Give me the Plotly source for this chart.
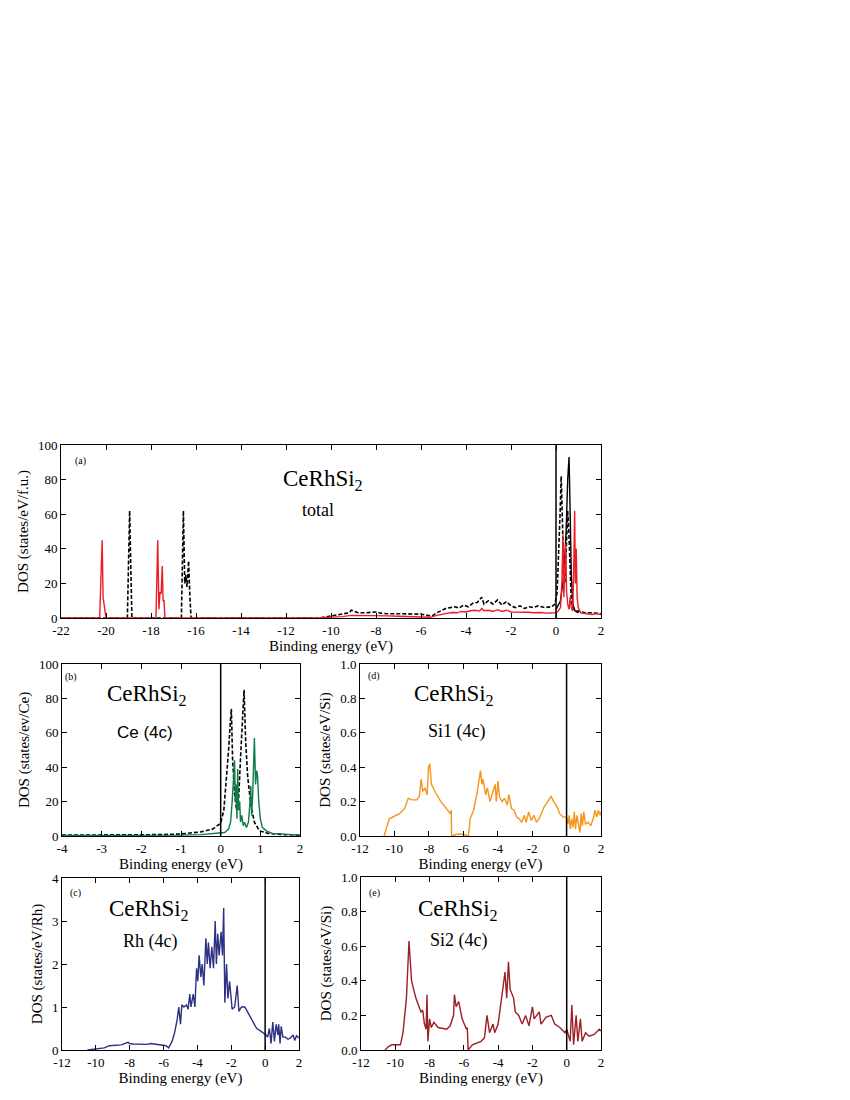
import plotly.graph_objects as go

# ---------------- data (energy in eV, DOS) ----------------
a_red = [(-22, 0), (-20.28, 0), (-20.22, 25), (-20.17, 45), (-20.13, 12), (-20.09, 8), (-20.05, 3), (-20.0, 0),
         (-17.78, 0), (-17.7, 45), (-17.65, 5), (-17.6, 15), (-17.55, 14), (-17.5, 30), (-17.46, 10), (-17.42, 10), (-17.38, 0),
         (-10.5, 0), (-10.0, 0.5), (-9.5, 0.8), (-9.1, 1.5), (-8.5, 1.5), (-8.0, 1.5), (-7.5, 1.2), (-7.0, 1.0), (-6.5, 0.8),
         (-6.0, 0.6), (-5.6, 0.4), (-5.3, 1.5), (-5.0, 2.5), (-4.8, 2.8), (-4.6, 3.2), (-4.4, 3), (-4.2, 3.8), (-4.0, 3.5),
         (-3.8, 4.2), (-3.6, 4.5), (-3.4, 4), (-3.3, 5.5), (-3.2, 4.2), (-3.0, 4.5), (-2.8, 3.8), (-2.6, 4.8), (-2.4, 3.8),
         (-2.2, 4.5), (-2.0, 3.5), (-1.8, 3.5), (-1.5, 3.2), (-1.2, 3.3), (-1.0, 3), (-0.7, 3.2), (-0.4, 2.8), (-0.2, 3),
         (0.0, 3), (0.1, 4), (0.2, 6), (0.26, 20), (0.31, 48), (0.35, 12), (0.39, 25), (0.43, 43), (0.47, 15), (0.52, 8),
         (0.58, 5), (0.63, 12), (0.68, 6), (0.74, 4), (0.79, 30), (0.83, 62), (0.86, 20), (0.9, 40), (0.94, 12), (0.99, 6),
         (1.1, 3), (1.3, 2.5), (1.6, 2), (1.8, 2.5), (2.0, 2)]

a_black_dash = [(-22, 0), (-19.05, 0), (-18.95, 62), (-18.88, 20), (-18.85, 0),
                (-16.65, 0), (-16.56, 62), (-16.5, 20), (-16.45, 25), (-16.4, 18), (-16.33, 33), (-16.27, 12), (-16.22, 0),
                (-10.5, 0), (-10.0, 1), (-9.5, 2), (-9.2, 3), (-9.1, 4.5), (-8.8, 3), (-8.5, 3), (-8.0, 3.5), (-7.8, 2.8),
                (-7.5, 2.5), (-7.0, 2.5), (-6.5, 2.2), (-6.0, 2.2), (-5.7, 1.5), (-5.5, 1.2), (-5.3, 3), (-5.1, 4.5),
                (-4.9, 5.5), (-4.7, 6), (-4.5, 6.5), (-4.3, 5.8), (-4.1, 7.5), (-3.9, 6.5), (-3.7, 8.5), (-3.5, 9),
                (-3.3, 12), (-3.2, 8), (-3.0, 10), (-2.8, 8), (-2.6, 10.5), (-2.4, 7.5), (-2.2, 9.5), (-2.0, 7),
                (-1.8, 6), (-1.6, 7), (-1.4, 5.5), (-1.2, 6.5), (-1.0, 6), (-0.8, 7), (-0.5, 6), (-0.2, 6.5), (-0.05, 8),
                (0.05, 15), (0.12, 35), (0.18, 60), (0.23, 82), (0.28, 55), (0.34, 30), (0.4, 20), (0.45, 35), (0.52, 62),
                (0.57, 50), (0.62, 25), (0.68, 10), (0.75, 6), (0.85, 4), (1.0, 4), (1.3, 3), (1.6, 3), (2.0, 2.5)]

a_black_solid = [(0.0, 5), (0.2, 10), (0.35, 25), (0.45, 50), (0.52, 80), (0.58, 93), (0.63, 60), (0.68, 25),
                 (0.75, 8), (0.85, 4), (1.0, 3)]

b_black_dash = [(-4, 0.5), (-3, 0.5), (-2, 0.6), (-1.5, 0.8), (-1.0, 1.2), (-0.5, 2.4), (-0.2, 4), (0.0, 7.5),
                (0.08, 15), (0.15, 34), (0.2, 50), (0.24, 65), (0.27, 74), (0.3, 45), (0.35, 25), (0.4, 15),
                (0.45, 20), (0.5, 45), (0.54, 65), (0.59, 85), (0.63, 55), (0.68, 35), (0.76, 18), (0.85, 8),
                (0.98, 3), (1.2, 1.5), (1.6, 0.8), (2, 0.5)]

b_green = [(-4, 0.3), (-2, 0.3), (-1, 0.5), (-0.5, 0.8), (0.0, 1.5), (0.1, 2), (0.2, 4), (0.25, 8), (0.29, 20),
           (0.32, 35), (0.35, 44), (0.37, 20), (0.39, 30), (0.41, 10), (0.43, 39), (0.45, 15), (0.48, 20), (0.5, 8),
           (0.53, 12), (0.57, 6), (0.6, 8), (0.65, 5), (0.7, 8), (0.74, 20), (0.76, 29), (0.78, 12), (0.81, 25),
           (0.85, 57), (0.88, 30), (0.91, 38), (0.93, 35), (0.96, 20), (1.0, 10), (1.05, 5), (1.15, 3), (1.3, 1.5),
           (1.6, 1), (2, 0.5)]

c_rh = [(-10.5, 0), (-10.0, 0.02), (-9.5, 0.05), (-9.2, 0.1), (-8.5, 0.12), (-8.1, 0.18), (-8.0, 0.15), (-7.8, 0.14),
        (-7.0, 0.13), (-6.75, 0.15), (-6.2, 0.12), (-5.85, 0.1), (-5.7, 0.05), (-5.5, 0.2), (-5.35, 0.4), (-5.2, 0.7),
        (-5.1, 1.0), (-5.0, 0.6), (-4.92, 1.05), (-4.8, 1.0), (-4.65, 1.05), (-4.55, 0.95), (-4.45, 1.3), (-4.38, 1.0),
        (-4.25, 1.3), (-4.15, 1.0), (-4.05, 1.9), (-3.98, 1.6), (-3.9, 2.2), (-3.8, 1.7), (-3.72, 2.0), (-3.62, 1.5),
        (-3.5, 2.6), (-3.42, 2.0), (-3.35, 2.5), (-3.25, 1.9), (-3.15, 2.4), (-3.05, 1.9), (-2.95, 3.0), (-2.88, 2.0),
        (-2.8, 2.7), (-2.72, 2.2), (-2.6, 2.75), (-2.52, 2.2), (-2.45, 3.3), (-2.38, 1.1), (-2.28, 2.0), (-2.2, 1.2),
        (-2.1, 1.6), (-1.95, 0.95), (-1.8, 1.0), (-1.65, 1.5), (-1.55, 0.9), (-1.4, 1.0), (-1.2, 1.0), (-1.0, 0.85),
        (-0.85, 0.75), (-0.7, 0.65), (-0.5, 0.5), (-0.3, 0.45), (-0.1, 0.4), (0.05, 0.35), (0.15, 0.3), (0.25, 0.5),
        (0.35, 0.15), (0.45, 0.65), (0.55, 0.2), (0.65, 0.6), (0.75, 0.35), (0.8, 0.6), (0.88, 0.15), (0.95, 0.55),
        (1.05, 0.3), (1.2, 0.3), (1.35, 0.25), (1.5, 0.28), (1.65, 0.35), (1.75, 0.22), (1.85, 0.33), (2.0, 0.28)]

d_si1 = [(-10.6, 0), (-10.3, 0.1), (-9.7, 0.13), (-9.4, 0.16), (-9.2, 0.22), (-9.0, 0.21), (-8.7, 0.21), (-8.55, 0.23),
         (-8.45, 0.33), (-8.35, 0.26), (-8.22, 0.28), (-8.1, 0.24), (-8.02, 0.4), (-7.95, 0.42), (-7.85, 0.3),
         (-7.6, 0.25), (-7.3, 0.2), (-7.0, 0.16), (-6.75, 0.13), (-6.7, 0.15), (-6.68, 0), (-6.4, 0.01), (-6.0, 0.01),
         (-5.7, 0), (-5.6, 0.1), (-5.4, 0.15), (-5.2, 0.25), (-5.0, 0.38), (-4.92, 0.3), (-4.85, 0.33), (-4.7, 0.24),
         (-4.6, 0.28), (-4.45, 0.2), (-4.3, 0.25), (-4.15, 0.3), (-4.08, 0.2), (-3.98, 0.32), (-3.9, 0.23),
         (-3.75, 0.2), (-3.6, 0.22), (-3.45, 0.18), (-3.35, 0.24), (-3.2, 0.16), (-3.05, 0.15), (-2.9, 0.11),
         (-2.75, 0.1), (-2.6, 0.08), (-2.45, 0.12), (-2.35, 0.08), (-2.2, 0.14), (-2.05, 0.09), (-1.9, 0.12),
         (-1.75, 0.08), (-1.6, 0.1), (-1.45, 0.14), (-1.3, 0.17), (-1.1, 0.2), (-0.9, 0.23), (-0.75, 0.2),
         (-0.55, 0.17), (-0.4, 0.13), (-0.2, 0.11), (0.0, 0.11), (0.08, 0.07), (0.15, 0.12), (0.22, 0.04), (0.3, 0.1),
         (0.38, 0.05), (0.45, 0.14), (0.52, 0.04), (0.6, 0.12), (0.68, 0.07), (0.78, 0.02), (0.85, 0.13), (0.92, 0.06),
         (1.0, 0.14), (1.1, 0.07), (1.25, 0.08), (1.4, 0.06), (1.55, 0.1), (1.65, 0.15), (1.75, 0.11), (1.85, 0.15),
         (1.95, 0.12), (2.0, 0.14)]

e_si2 = [(-10.6, 0), (-10.4, 0.02), (-10.2, 0.03), (-9.7, 0.03), (-9.55, 0.1), (-9.35, 0.3), (-9.2, 0.63), (-9.05, 0.4),
         (-8.8, 0.3), (-8.5, 0.22), (-8.4, 0.23), (-8.3, 0.15), (-8.2, 0.12), (-8.15, 0.32), (-8.1, 0.05), (-8.0, 0.18),
         (-7.9, 0.13), (-7.75, 0.16), (-7.5, 0.13), (-7.0, 0.12), (-6.8, 0.14), (-6.6, 0.2), (-6.55, 0.32),
         (-6.45, 0.25), (-6.3, 0.28), (-6.1, 0.18), (-5.85, 0.12), (-5.8, 0.13), (-5.75, 0), (-5.5, 0.03), (-5.0, 0.05),
         (-4.8, 0.07), (-4.65, 0.2), (-4.5, 0.1), (-4.3, 0.15), (-4.2, 0.1), (-4.0, 0.15), (-3.8, 0.3), (-3.6, 0.45),
         (-3.5, 0.3), (-3.4, 0.51), (-3.3, 0.35), (-3.1, 0.3), (-3.0, 0.22), (-2.8, 0.2), (-2.6, 0.15), (-2.4, 0.2),
         (-2.2, 0.14), (-2.0, 0.25), (-1.9, 0.18), (-1.6, 0.22), (-1.5, 0.15), (-1.2, 0.19), (-0.9, 0.2), (-0.7, 0.15),
         (-0.4, 0.13), (-0.1, 0.1), (0.0, 0.12), (0.2, 0.05), (0.3, 0.26), (0.4, 0.03), (0.55, 0.2), (0.65, 0.05),
         (0.8, 0.18), (0.9, 0.05), (1.1, 0.1), (1.3, 0.08), (1.6, 0.09), (1.9, 0.12), (2.0, 0.11)]

x_ticks_a = [-22, -20, -18, -16, -14, -12, -10, -8, -6, -4, -2, 0, 2]
x_ticks_b = [-4, -3, -2, -1, 0, 1, 2]
x_ticks_cde = [-12, -10, -8, -6, -4, -2, 0, 2]
y_ticks_100 = [0, 20, 40, 60, 80, 100]
y_ticks_4 = [0, 1, 2, 3, 4]
y_ticks_1 = [0, 0.2, 0.4, 0.6, 0.8, 1.0]
y_labels_1 = ["0.0", "0.2", "0.4", "0.6", "0.8", "1.0"]

FONT = "Liberation Serif"
RED = "#ec1c24"
GREEN = "#0f7a4a"
ORANGE = "#f7941d"
NAVY = "#2e3182"
MAROON = "#9b1f24"


def xs(p):
    return [q[0] for q in p]


def ys(p):
    return [q[1] for q in p]


fig = go.Figure()


def add(series, color, xa, ya, dash="solid", width=1.4):
    fig.add_trace(go.Scatter(x=xs(series), y=ys(series), mode="lines",
                             line=dict(color=color, width=width, dash=dash),
                             xaxis=xa, yaxis=ya, showlegend=False))


# panel a -> x/y, b -> x2/y2, d -> x3/y3, c -> x4/y4, e -> x5/y5
add(a_black_solid, "black", "x", "y")
add(a_black_dash, "black", "x", "y", dash="4px,2px", width=1.6)
add(a_red, RED, "x", "y")
add(b_black_dash, "black", "x2", "y2", dash="4px,2px", width=1.6)
add(b_green, GREEN, "x2", "y2")
add(d_si1, ORANGE, "x3", "y3")
add(c_rh, NAVY, "x4", "y4")
add(e_si2, MAROON, "x5", "y5")

W, H = 850, 1100
OFF = 8  # page body margin


def dx(a, b):
    return [(a - OFF) / W, (b - OFF) / W]


def dy(top, bot):
    return [1 - (bot - OFF) / H, 1 - (top - OFF) / H]


def lab(v):
    return [str(t) for t in v]


def xaxis(dom, rng, ticks, anchor):
    return dict(domain=dom, range=rng, tickvals=ticks, ticktext=lab(ticks), anchor=anchor, automargin=False,
                showline=True, mirror="ticks", linecolor="black", linewidth=1,
                ticks="inside", ticklen=5, tickcolor="black", showgrid=False, zeroline=False,
                tickfont=dict(family=FONT, size=13, color="black"),
                title=dict(text="Binding energy (eV)", font=dict(family=FONT, size=15, color="black"), standoff=1))


def yaxis(dom, rng, ticks, title, anchor, labels=None):
    return dict(domain=dom, range=rng, tickvals=ticks, ticktext=labels if labels else lab(ticks),
                anchor=anchor, automargin=False,
                showline=True, mirror="ticks", linecolor="black", linewidth=1,
                ticks="inside", ticklen=5, tickcolor="black", showgrid=False, zeroline=False,
                tickfont=dict(family=FONT, size=13, color="black"),
                title=dict(text=title, font=dict(family=FONT, size=15, color="black"), standoff=5))


layout = dict(
    width=W, height=H, margin=dict(l=0, r=0, t=0, b=0), template="none",
    paper_bgcolor="white", plot_bgcolor="white",
    xaxis=xaxis(dx(61, 601), [-22, 2], x_ticks_a, "y"),
    yaxis=yaxis(dy(445, 618), [0, 100], y_ticks_100, "DOS (states/eV/f.u.)", "x"),
    xaxis2=xaxis(dx(62, 300), [-4, 2], x_ticks_b, "y2"),
    yaxis2=yaxis(dy(664, 836), [0, 100], y_ticks_100, "DOS (states/ev/Ce)", "x2"),
    xaxis3=xaxis(dx(360, 601), [-12, 2], x_ticks_cde, "y3"),
    yaxis3=yaxis(dy(664, 836), [0, 1], y_ticks_1, "DOS (states/eV/Si)", "x3", y_labels_1),
    xaxis4=xaxis(dx(62, 299), [-12, 2], x_ticks_cde, "y4"),
    yaxis4=yaxis(dy(878, 1050), [0, 4], y_ticks_4, "DOS (states/eV/Rh)", "x4"),
    xaxis5=xaxis(dx(361, 601), [-12, 2], x_ticks_cde, "y5"),
    yaxis5=yaxis(dy(877, 1050), [0, 1], y_ticks_1, "DOS (states/eV/Si)", "x5", y_labels_1),
)
fig.update_layout(**layout)

# vertical Fermi-level lines
for xr, yr in [("x", "y"), ("x2", "y2"), ("x3", "y3"), ("x4", "y4"), ("x5", "y5")]:
    fig.add_shape(type="line", xref=xr, yref=f"{yr} domain", x0=0, x1=0, y0=0, y1=1,
                  line=dict(color="black", width=1.5))


def px(xpix, ypix, s, size, family=FONT):
    fig.add_annotation(x=(xpix - OFF) / W, y=1 - (ypix - OFF) / H, xref="paper", yref="paper", text=s,
                       showarrow=False, font=dict(family=family, size=size, color="black"),
                       xanchor="center", yanchor="middle")


SUBNAME = "CeRhSi<sub>2</sub>"
px(80, 461, "(a)", 10)
px(323, 480, SUBNAME, 23)
px(318, 510, "total", 18)
px(71, 677, "(b)", 10)
px(147, 695, SUBNAME, 23)
px(145, 732, "Ce (4c)", 17, family="Liberation Sans")
px(374, 676, "(d)", 10)
px(454, 695, SUBNAME, 23)
px(457, 731, "Si1 (4c)", 18)
px(75, 893, "(c)", 10)
px(149, 910, SUBNAME, 23)
px(150, 941, "Rh (4c)", 18)
px(374, 893, "(e)", 10)
px(458, 910, SUBNAME, 23)
px(459, 940, "Si2 (4c)", 18)

fig.write_html("out.html")
